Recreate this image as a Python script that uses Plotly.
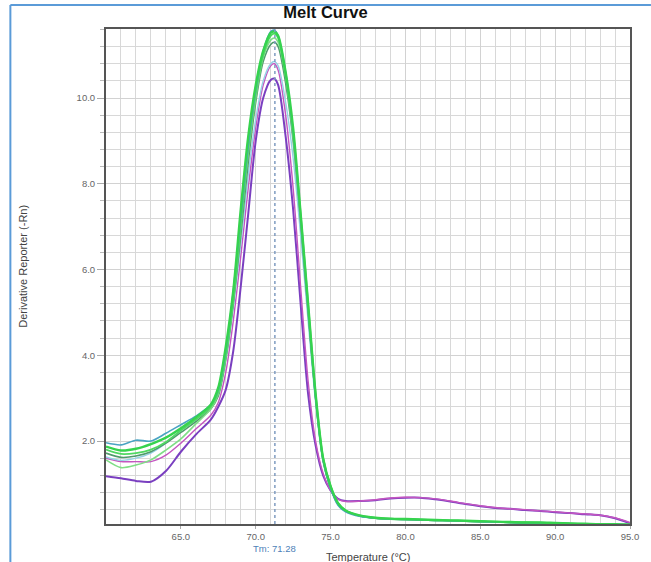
import plotly.graph_objects as go

# Temperature points (°C) shared by every well
temperature = [60, 61, 62, 63, 64, 65, 66, 67, 67.5, 68, 68.5, 69, 69.5, 70, 70.5,
               71, 71.25, 71.5, 72, 72.5, 73, 73.5, 74, 74.5, 75, 75.5, 76, 77, 78,
               79, 80, 81, 82, 83, 84, 85, 86, 87, 88, 89, 90, 91, 92, 93, 94, 95]

# Derivative reporter (-Rn) per well
well_purple = [1.18, 1.13, 1.07, 1.05, 1.30, 1.75, 2.15, 2.50, 2.80, 3.20, 4.10, 5.60, 7.30, 9.00, 10.00,
               10.42, 10.45, 10.30, 9.10, 7.40, 5.20, 3.10, 1.90, 1.20, 0.85, 0.65, 0.60, 0.60, 0.62,
               0.66, 0.68, 0.68, 0.64, 0.59, 0.53, 0.48, 0.44, 0.42, 0.39, 0.37, 0.34, 0.32, 0.29, 0.27, 0.20, 0.08]
well_magenta = [1.60, 1.52, 1.52, 1.52, 1.67, 1.95, 2.28, 2.60, 2.90, 3.60, 4.80, 6.30, 7.90, 9.30, 10.30,
                10.75, 10.80, 10.65, 9.60, 7.90, 5.60, 3.40, 2.00, 1.25, 0.85, 0.64, 0.59, 0.60, 0.63,
                0.67, 0.69, 0.68, 0.65, 0.60, 0.54, 0.49, 0.45, 0.42, 0.40, 0.37, 0.35, 0.32, 0.30, 0.27, 0.21, 0.10]
well_cyan = [1.63, 1.55, 1.60, 1.72, 1.95, 2.25, 2.50, 2.80, 3.10, 3.90, 5.10, 6.60, 8.20, 9.50, 10.40,
             10.80, 10.85, 10.75, 9.90, 8.60, 6.80, 4.80, 2.90, 1.50, 0.90, 0.52, 0.37, 0.25, 0.21,
             0.19, 0.18, 0.17, 0.16, 0.15, 0.14, 0.13, 0.12, 0.11, 0.10, 0.10, 0.09, 0.08, 0.07, 0.06, 0.06, 0.05]
well_darkgreen = [1.72, 1.62, 1.65, 1.75, 1.95, 2.20, 2.45, 2.75, 3.05, 3.90, 5.20, 6.80, 8.50, 9.90, 10.85,
                  11.25, 11.30, 11.20, 10.35, 9.00, 7.10, 5.00, 3.00, 1.55, 0.90, 0.52, 0.37, 0.25, 0.20,
                  0.18, 0.17, 0.16, 0.15, 0.14, 0.13, 0.12, 0.11, 0.10, 0.09, 0.09, 0.08, 0.07, 0.06, 0.05, 0.05, 0.04]
well_lightgreen = [1.56, 1.38, 1.44, 1.56, 1.79, 2.05, 2.40, 2.75, 3.10, 3.95, 5.30, 7.00, 8.70, 10.00, 10.95,
                   11.35, 11.40, 11.30, 10.50, 9.10, 7.20, 5.10, 3.05, 1.60, 0.95, 0.55, 0.38, 0.26, 0.21,
                   0.19, 0.18, 0.17, 0.16, 0.15, 0.14, 0.13, 0.12, 0.11, 0.11, 0.10, 0.09, 0.08, 0.07, 0.06, 0.05, 0.05]
well_green2 = [1.80, 1.70, 1.72, 1.80, 1.98, 2.25, 2.50, 2.80, 3.15, 4.00, 5.30, 7.00, 8.80, 10.10, 11.00,
               11.45, 11.50, 11.40, 10.50, 9.20, 7.30, 5.20, 3.10, 1.60, 0.95, 0.55, 0.38, 0.25, 0.20,
               0.18, 0.17, 0.16, 0.15, 0.14, 0.13, 0.12, 0.11, 0.10, 0.10, 0.09, 0.08, 0.07, 0.06, 0.06, 0.05, 0.05]
well_teal = [1.96, 1.91, 2.02, 2.00, 2.18, 2.38, 2.58, 2.85, 3.20, 4.10, 5.50, 7.20, 8.90, 10.20, 11.10,
             11.55, 11.58, 11.45, 10.60, 9.20, 7.20, 5.10, 3.00, 1.55, 0.90, 0.50, 0.35, 0.24, 0.20,
             0.18, 0.17, 0.16, 0.15, 0.14, 0.13, 0.12, 0.11, 0.10, 0.09, 0.09, 0.08, 0.07, 0.06, 0.05, 0.05, 0.05]
well_green1 = [1.87, 1.78, 1.82, 1.93, 2.08, 2.30, 2.55, 2.85, 3.25, 4.20, 5.50, 7.40, 9.10, 10.30, 11.10,
               11.52, 11.55, 11.45, 10.60, 9.30, 7.30, 5.20, 3.10, 1.60, 0.95, 0.55, 0.38, 0.26, 0.21,
               0.19, 0.18, 0.17, 0.16, 0.15, 0.14, 0.13, 0.12, 0.11, 0.10, 0.10, 0.09, 0.08, 0.07, 0.06, 0.06, 0.05]

tm_value = 71.28
x_ticks = [65, 70, 75, 80, 85, 90, 95]
y_ticks = [2, 4, 6, 8, 10]

series = [
    (well_purple, "#7a3fc0", 2.0),
    (well_magenta, "#c455c0", 1.4),
    (well_cyan, "#95d2e6", 1.4),
    (well_darkgreen, "#4f9a6c", 1.6),
    (well_lightgreen, "#7fde86", 1.6),
    (well_green2, "#4fd862", 1.8),
    (well_teal, "#4aa3c2", 1.6),
    (well_green1, "#36d34e", 2.4),
]

fig = go.Figure()
for values, color, width in series:
    fig.add_trace(go.Scatter(
        x=temperature, y=values, mode="lines",
        line=dict(color=color, width=width, shape="spline", smoothing=0.8),
        hoverinfo="skip", showlegend=False,
    ))

FONT = "Liberation Sans, Arial, sans-serif"
axis_font = dict(family=FONT, size=9.5, color="#666666")

fig.update_xaxes(
    range=[60, 95], tickvals=x_ticks, tickformat=".1f",
    showgrid=True, gridcolor="#d2d2d2", gridwidth=1,
    minor=dict(dtick=1, showgrid=True, gridcolor="#d8d8d8", gridwidth=1),
    showline=True, linecolor="#555555", linewidth=2, mirror=True,
    ticks="outside", ticklen=3, tickcolor="#aaaaaa",
    tickfont=axis_font, zeroline=False,
)
fig.update_yaxes(
    range=[0.065, 11.61], tickvals=y_ticks, tickformat=".1f",
    showgrid=True, gridcolor="#d2d2d2", gridwidth=1,
    minor=dict(tick0=0, dtick=0.4, showgrid=True, gridcolor="#d8d8d8", gridwidth=1,
               ticks="outside", ticklen=4, tickcolor="#bbbbbb"),
    showline=True, linecolor="#555555", linewidth=2, mirror=True,
    ticks="outside", ticklen=7, tickcolor="#aaaaaa",
    tickfont=axis_font, zeroline=False,
)

# Tm marker line
fig.add_shape(type="line", xref="x", yref="paper", x0=tm_value, x1=tm_value, y0=0, y1=1,
              line=dict(color="#7f9cc0", width=1.5, dash="dot"))

# Frame lines on the page
fig.add_shape(type="line", xref="paper", yref="paper", x0=-0.1825, x1=1.04, y0=1.0485, y1=1.0485,
              line=dict(color="#5b9bd8", width=2))
fig.add_shape(type="line", xref="paper", yref="paper", x0=-0.1825, x1=-0.1825, y0=-0.08, y1=1.0485,
              line=dict(color="#5b9bd8", width=2))

fig.add_annotation(text=f"Tm: {tm_value:.2f}", x=tm_value, xref="x", y=-0.0505, yref="paper",
                   showarrow=False, yanchor="middle",
                   font=dict(family=FONT, size=9.5, color="#4d7fb8"))
fig.add_annotation(text="Temperature (°C)", x=0.5, xref="paper", y=-0.0667, yref="paper",
                   showarrow=False, yanchor="middle",
                   font=dict(family=FONT, size=11, color="#444444"))
fig.add_annotation(text="Derivative Reporter (-Rn)", x=-0.16, xref="paper", y=0.52, yref="paper",
                   showarrow=False, textangle=-90, xanchor="center",
                   font=dict(family=FONT, size=11, color="#444444"))

fig.update_layout(
    width=651, height=562,
    margin=dict(l=106, r=19, t=29, b=38),
    paper_bgcolor="white", plot_bgcolor="white",
    title=dict(text="<b>Melt Curve</b>", x=0.5, xanchor="center",
               y=1 - 12 / 562, yanchor="middle", yref="container",
               font=dict(family=FONT, size=16.5, color="#111111")),
)

fig.write_html("out.html")
